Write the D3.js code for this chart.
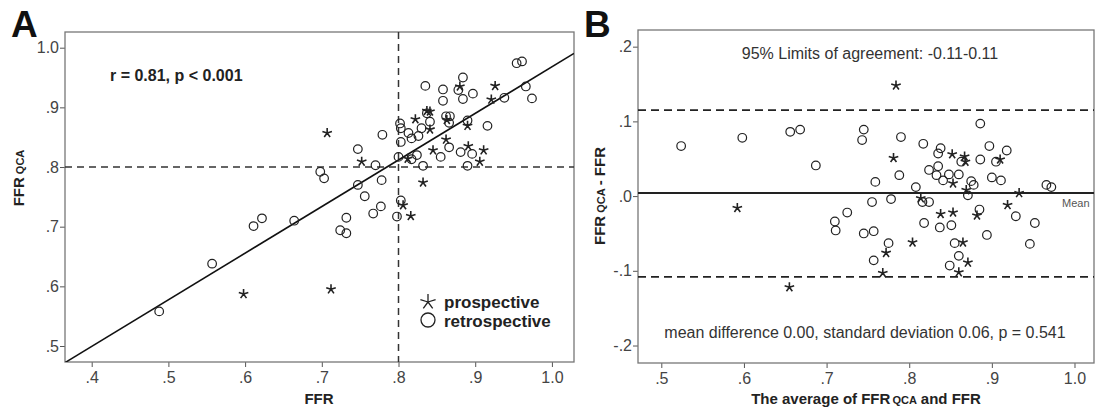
<!DOCTYPE html>
<html>
<head>
<meta charset="utf-8">
<script src="https://cdn.jsdelivr.net/npm/d3@7"></script>
<style>
  body { margin: 0; background: #fff; }
  svg { font-family: "Liberation Sans", Arial, sans-serif; }
  .tick text { fill: #444; font-size: 16px; }
  .tick line { stroke: #555; }
</style>
</head>
<body>
<svg id="chart" width="1096" height="416"></svg>
<script>
// Panel A: FFR (x) vs FFR-QCA (y)
const retroFFR = [0.488, 0.557, 0.611, 0.622, 0.664, 0.698, 0.703, 0.724, 0.732, 0.732, 0.747, 0.747, 0.756, 0.767,
  0.770, 0.777, 0.778, 0.779, 0.798, 0.803, 0.800, 0.802, 0.803, 0.803, 0.813, 0.817, 0.817, 0.824, 0.826, 0.830,
  0.832, 0.835, 0.837, 0.841, 0.855, 0.858, 0.858, 0.862, 0.867, 0.866, 0.866, 0.878, 0.881, 0.884, 0.884, 0.890,
  0.890, 0.896, 0.897, 0.916, 0.938, 0.954, 0.961, 0.966, 0.974];
const retroQCA = [0.558, 0.638, 0.701, 0.714, 0.710, 0.792, 0.781, 0.694, 0.689, 0.715, 0.830, 0.770, 0.751, 0.722,
  0.803, 0.734, 0.778, 0.854, 0.717, 0.744, 0.817, 0.873, 0.865, 0.842, 0.857, 0.848, 0.813, 0.820, 0.852, 0.865,
  0.802, 0.936, 0.890, 0.876, 0.817, 0.930, 0.911, 0.885, 0.885, 0.874, 0.833, 0.929, 0.825, 0.950, 0.914, 0.878,
  0.802, 0.822, 0.923, 0.869, 0.916, 0.974, 0.977, 0.935, 0.915];
const prosFFR = [0.598, 0.707, 0.712, 0.752, 0.806, 0.816, 0.812, 0.822, 0.832, 0.837, 0.841, 0.841, 0.845, 0.862,
  0.863, 0.880, 0.890, 0.891, 0.906, 0.911, 0.921, 0.926];
const prosQCA = [0.587, 0.857, 0.595, 0.809, 0.736, 0.718, 0.814, 0.880, 0.774, 0.894, 0.893, 0.863, 0.828, 0.846,
  0.879, 0.935, 0.869, 0.835, 0.809, 0.828, 0.913, 0.936];
const fitIntercept = 0.187, fitSlope = 0.781;
const cutoff = 0.8;

// Panel B: Bland-Altman (mean of the two, difference)
const retroAvg = [0.524, 0.598, 0.656, 0.668, 0.687, 0.745, 0.743, 0.790, 0.759, 0.788, 0.808, 0.755, 0.778, 0.725,
  0.710, 0.711, 0.745, 0.757, 0.775, 0.757, 0.886, 0.817, 0.838, 0.835, 0.897, 0.918, 0.886, 0.905, 0.863, 0.835,
  0.824, 0.833, 0.841, 0.848, 0.860, 0.900, 0.911, 0.875, 0.878, 0.966, 0.972, 0.871, 0.816, 0.824, 0.885, 0.929,
  0.952, 0.818, 0.837, 0.851, 0.894, 0.946, 0.855, 0.860, 0.849];
const retroDiff = [0.067, 0.078, 0.086, 0.089, 0.041, 0.089, 0.075, 0.079, 0.019, 0.028, 0.012, -0.008, -0.004, -0.022,
  -0.034, -0.046, -0.050, -0.047, -0.063, -0.086, 0.097, 0.070, 0.064, 0.057, 0.067, 0.061, 0.049, 0.046, 0.046, 0.040,
  0.035, 0.028, 0.021, 0.029, 0.029, 0.025, 0.021, 0.020, 0.015, 0.015, 0.012, 0.001, -0.008, -0.008, -0.018, -0.027,
  -0.036, -0.036, -0.042, -0.039, -0.052, -0.064, -0.063, -0.080, -0.093];
const prosAvg = [0.592, 0.655, 0.784, 0.781, 0.804, 0.772, 0.768, 0.852, 0.867, 0.868, 0.910, 0.853, 0.869, 0.933,
  0.814, 0.919, 0.838, 0.853, 0.882, 0.865, 0.871, 0.860];
const prosDiff = [-0.016, -0.122, 0.148, 0.051, -0.062, -0.076, -0.103, 0.056, 0.053, 0.046, 0.049, 0.017, 0.008, 0.004,
  -0.003, -0.012, -0.024, -0.022, -0.026, -0.062, -0.089, -0.102];
const meanDiff = 0.004, upperLoA = 0.115, lowerLoA = -0.108;

const ticksA_x = [0.4, 0.5, 0.6, 0.7, 0.8, 0.9, 1.0];
const ticksA_y = [0.5, 0.6, 0.7, 0.8, 0.9, 1.0];
const ticksB_x = [0.5, 0.6, 0.7, 0.8, 0.9, 1.0];
const ticksB_y = [-0.2, -0.1, 0.0, 0.1, 0.2];

// SPSS style: drop the leading zero (.8, -.1, .0)
const fmt = v => {
  if (Math.abs(v) < 1e-9) return '.0';
  const s = v.toFixed(1);
  return s.replace(/^(-?)0\./, '$1.');
};

const svg = d3.select('#chart');
const ink = '#222';

// five spoke star marker
function starPath(r) {
  let p = '';
  for (let k = 0; k < 5; k++) {
    const a = -Math.PI / 2 + k * 2 * Math.PI / 5;
    p += `M0,0L${(r * Math.cos(a)).toFixed(2)},${(r * Math.sin(a)).toFixed(2)}`;
  }
  return p;
}

function panel(opts) {
  const { left, right, top, bottom, xDom, yDom, xTicks, yTicks, id } = opts;
  const x = d3.scaleLinear().domain(xDom).range([left, right]);
  const y = d3.scaleLinear().domain(yDom).range([bottom, top]);

  svg.append('defs').append('clipPath').attr('id', id)
    .append('rect').attr('x', left).attr('y', top).attr('width', right - left).attr('height', bottom - top);

  svg.append('g')
    .attr('transform', `translate(0,${bottom})`)
    .call(d3.axisBottom(x).tickValues(xTicks).tickFormat(fmt).tickSize(5).tickPadding(5))
    .call(g => g.select('.domain').remove());
  svg.append('g')
    .attr('transform', `translate(${left},0)`)
    .call(d3.axisLeft(y).tickValues(yTicks).tickFormat(fmt).tickSize(5).tickPadding(1))
    .call(g => g.select('.domain').remove());

  svg.append('rect')
    .attr('x', left).attr('y', top).attr('width', right - left).attr('height', bottom - top)
    .attr('fill', 'none').attr('stroke', '#777').attr('stroke-width', 1.3);

  const g = svg.append('g').attr('clip-path', `url(#${id})`);
  return { x, y, g };
}

function drawPoints(g, x, y, cx, cy, sx, sy) {
  g.append('g').selectAll('circle')
    .data(cx.map((v, i) => [v, cy[i]])).enter()
    .append('circle')
    .attr('cx', d => x(d[0])).attr('cy', d => y(d[1]))
    .attr('r', 4.3)
    .attr('fill', 'none').attr('stroke', ink).attr('stroke-width', 1.2);
  g.append('g').selectAll('path')
    .data(sx.map((v, i) => [v, sy[i]])).enter()
    .append('path')
    .attr('d', starPath(5))
    .attr('transform', d => `translate(${x(d[0])},${y(d[1])})`)
    .attr('fill', 'none').attr('stroke', ink).attr('stroke-width', 1.6);
}

/* Panel A */
const A = panel({ left: 65, right: 574, top: 32, bottom: 362, xDom: [0.3652, 1.0288], yDom: [0.4732, 1.0263],
  xTicks: ticksA_x, yTicks: ticksA_y, id: 'clipA' });

A.g.append('line')
  .attr('x1', A.x(cutoff)).attr('x2', A.x(cutoff)).attr('y1', 32).attr('y2', 362)
  .attr('stroke', '#333').attr('stroke-width', 1.5).attr('stroke-dasharray', '7,5');
A.g.append('line')
  .attr('x1', 65).attr('x2', 574).attr('y1', A.y(cutoff)).attr('y2', A.y(cutoff))
  .attr('stroke', '#333').attr('stroke-width', 1.5).attr('stroke-dasharray', '7,5');
const fitLine = d3.line().x(d => A.x(d)).y(d => A.y(fitIntercept + fitSlope * d));
A.g.append('path').attr('d', fitLine(A.x.domain()))
  .attr('fill', 'none').attr('stroke', '#111').attr('stroke-width', 1.6);

drawPoints(A.g, A.x, A.y, retroFFR, retroQCA, prosFFR, prosQCA);

svg.append('text').attr('x', 110).attr('y', 81)
  .attr('font-size', 16).attr('font-weight', 'bold').attr('fill', ink)
  .text('r = 0.81, p < 0.001');

// legend
svg.append('path').attr('d', starPath(8)).attr('transform', 'translate(428,302)')
  .attr('fill', 'none').attr('stroke', ink).attr('stroke-width', 1.3);
svg.append('circle').attr('cx', 428).attr('cy', 320).attr('r', 7)
  .attr('fill', 'none').attr('stroke', ink).attr('stroke-width', 1.3);
svg.append('text').attr('x', 444).attr('y', 308).attr('font-size', 17).attr('font-weight', 'bold')
  .attr('fill', ink).text('prospective');
svg.append('text').attr('x', 444).attr('y', 327).attr('font-size', 17).attr('font-weight', 'bold')
  .attr('fill', ink).text('retrospective');

svg.append('text').attr('x', 319).attr('y', 404).attr('text-anchor', 'middle')
  .attr('font-size', 15).attr('font-weight', 'bold').attr('fill', ink).text('FFR');

const yLabA = svg.append('text').attr('transform', 'translate(24,178) rotate(-90)')
  .attr('text-anchor', 'middle').attr('font-size', 15).attr('font-weight', 'bold').attr('fill', ink);
yLabA.append('tspan').text('FFR');
yLabA.append('tspan').attr('font-size', 11).attr('dx', 3).text('QCA');

svg.append('text').attr('x', 11).attr('y', 37).attr('font-size', 37).attr('font-weight', 'bold')
  .attr('fill', '#111').text('A');

/* Panel B */
const B = panel({ left: 638, right: 1094, top: 30, bottom: 363, xDom: [0.4718, 1.0236], yDom: [-0.2234, 0.2223],
  xTicks: ticksB_x, yTicks: ticksB_y, id: 'clipB' });

[upperLoA, lowerLoA].forEach(v => {
  B.g.append('line')
    .attr('x1', 638).attr('x2', 1094).attr('y1', B.y(v)).attr('y2', B.y(v))
    .attr('stroke', '#222').attr('stroke-width', 1.7).attr('stroke-dasharray', '8,5');
});
B.g.append('line')
  .attr('x1', 638).attr('x2', 1094).attr('y1', B.y(meanDiff)).attr('y2', B.y(meanDiff))
  .attr('stroke', '#222').attr('stroke-width', 2);

drawPoints(B.g, B.x, B.y, retroAvg, retroDiff, prosAvg, prosDiff);

svg.append('text').attr('x', 1062).attr('y', 207).attr('font-size', 11).attr('fill', '#555').text('Mean');

svg.append('text').attr('x', 870).attr('y', 59).attr('text-anchor', 'middle')
  .attr('font-size', 16).attr('fill', '#333').text('95% Limits of agreement: -0.11-0.11');
svg.append('text').attr('x', 865).attr('y', 338).attr('text-anchor', 'middle')
  .attr('font-size', 16).attr('fill', '#333').text('mean difference 0.00, standard deviation 0.06, p = 0.541');

const xLabB = svg.append('text').attr('x', 866).attr('y', 404).attr('text-anchor', 'middle')
  .attr('font-size', 15).attr('font-weight', 'bold').attr('fill', ink);
xLabB.append('tspan').text('The average of FFR');
xLabB.append('tspan').attr('font-size', 11).attr('dx', 2).text('QCA');
xLabB.append('tspan').attr('dx', 4).text('and FFR');

const yLabB = svg.append('text').attr('transform', 'translate(605,196) rotate(-90)')
  .attr('text-anchor', 'middle').attr('font-size', 15).attr('font-weight', 'bold').attr('fill', ink);
yLabB.append('tspan').text('FFR');
yLabB.append('tspan').attr('font-size', 11).attr('dx', 3).text('QCA');
yLabB.append('tspan').attr('dx', 3).text('- FFR');

svg.append('text').attr('x', 584).attr('y', 37).attr('font-size', 37).attr('font-weight', 'bold')
  .attr('fill', '#111').text('B');
</script>
</body>
</html>
